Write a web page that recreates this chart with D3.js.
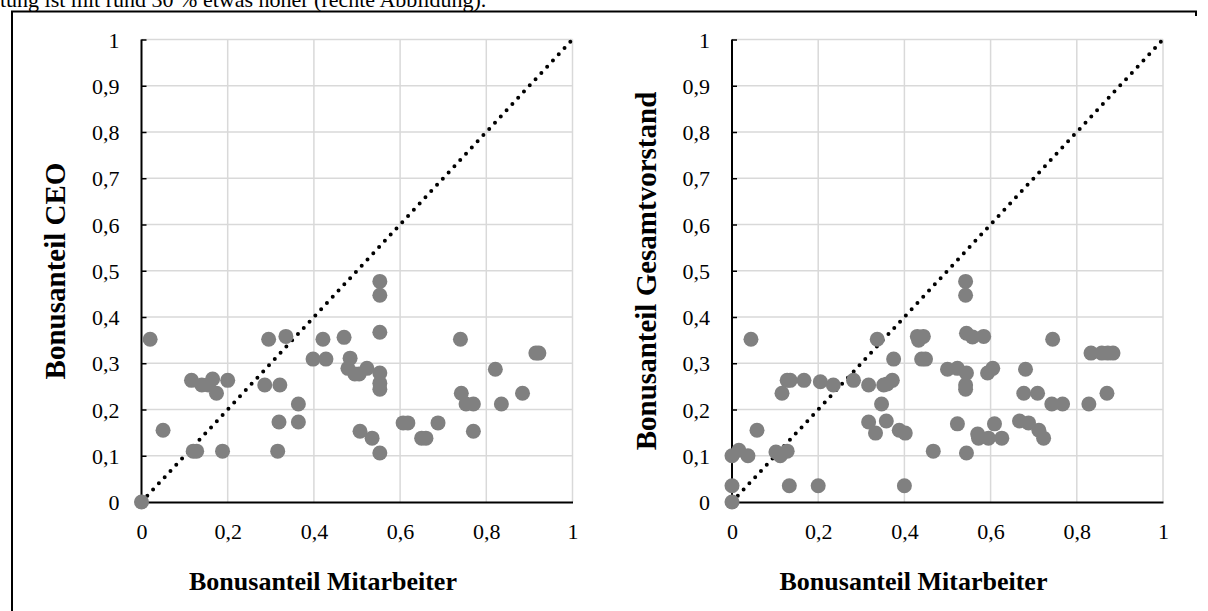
<!DOCTYPE html>
<meta charset="utf-8">
<style>
  body { margin: 0; background: white; }
  text { font-family: "Liberation Serif", "Times New Roman", serif; fill: black; }
  .tick-label { font-size: 22px; }
  .title { font-weight: bold; text-anchor: middle; }
</style>
<script src="https://cdn.jsdelivr.net/npm/d3@7"></script>
<body>
<script>

  var w = 1208;
  var h = 611;

  // Bonusanteil Mitarbeiter vs. Bonusanteil CEO
  var ceoX = [0, 0.02, 0.05, 0.116, 0.14, 0.155, 0.165, 0.174, 0.2, 0.12, 0.128, 0.188,
              0.295, 0.335, 0.286, 0.321, 0.319, 0.316, 0.364, 0.364, 0.421, 0.47, 0.398, 0.428,
              0.484, 0.479, 0.495, 0.505, 0.523, 0.553, 0.553, 0.553, 0.553, 0.553, 0.553,
              0.507, 0.535, 0.553, 0.607, 0.618, 0.65, 0.66, 0.688, 0.74, 0.742, 0.753, 0.77,
              0.77, 0.915, 0.922, 0.821, 0.884, 0.835];
  var ceoY = [0, 0.352, 0.155, 0.263, 0.253, 0.253, 0.266, 0.235, 0.263, 0.11, 0.11, 0.11,
              0.352, 0.358, 0.253, 0.253, 0.173, 0.11, 0.212, 0.173, 0.352, 0.356, 0.309, 0.309,
              0.311, 0.289, 0.277, 0.277, 0.289, 0.279, 0.257, 0.244, 0.477, 0.447, 0.367,
              0.153, 0.138, 0.106, 0.171, 0.171, 0.138, 0.138, 0.171, 0.352, 0.235, 0.212, 0.212,
              0.153, 0.322, 0.322, 0.287, 0.235, 0.212];

  // Bonusanteil Mitarbeiter vs. Bonusanteil Gesamtvorstand
  var vorstandX = [0, 0, 0.133, 0.2, 0.4, 0, 0.016, 0.037, 0.102, 0.112, 0.128,
                   0.044, 0.058, 0.116, 0.128, 0.135, 0.167, 0.205, 0.235, 0.282, 0.317,
                   0.337, 0.375, 0.352, 0.36, 0.372, 0.347, 0.317, 0.333, 0.358, 0.388, 0.402,
                   0.467, 0.542, 0.542, 0.43, 0.444, 0.433, 0.44, 0.449,
                   0.5, 0.523, 0.544, 0.542, 0.542, 0.544, 0.558, 0.584, 0.593, 0.605,
                   0.523, 0.544, 0.57, 0.572, 0.595, 0.609, 0.626,
                   0.681, 0.677, 0.709, 0.667, 0.688, 0.712, 0.723,
                   0.744, 0.742, 0.767, 0.833, 0.858, 0.872, 0.884, 0.828, 0.87];
  var vorstandY = [0, 0.035, 0.035, 0.035, 0.035, 0.1, 0.112, 0.1, 0.108, 0.1, 0.11,
                   0.352, 0.155, 0.235, 0.263, 0.263, 0.263, 0.26, 0.253, 0.263, 0.253,
                   0.352, 0.309, 0.253, 0.255, 0.263, 0.212, 0.173, 0.149, 0.175, 0.155, 0.149,
                   0.11, 0.477, 0.447, 0.358, 0.358, 0.35, 0.309, 0.309,
                   0.287, 0.289, 0.279, 0.253, 0.244, 0.365, 0.357, 0.358, 0.279, 0.289,
                   0.169, 0.106, 0.147, 0.138, 0.138, 0.169, 0.138,
                   0.287, 0.235, 0.235, 0.175, 0.171, 0.155, 0.138,
                   0.352, 0.212, 0.212, 0.322, 0.322, 0.322, 0.322, 0.212, 0.235];

  var xTicks = [0, 0.2, 0.4, 0.6, 0.8, 1];
  var yTicks = [0, 0.1, 0.2, 0.3, 0.4, 0.5, 0.6, 0.7, 0.8, 0.9, 1];
  var xTitle = "Bonusanteil Mitarbeiter";

  var de = d3.formatLocale({decimal: ",", thousands: ".", grouping: [3], currency: ["", " €"]});
  var fmt = function (d) { return d === 0 || d === 1 ? String(d) : de.format(",.1f")(d); };

  var svg = d3.select("body").append("svg")
              .attr("width", w)
              .attr("height", h);

  // text line cut off at the top of the page
  svg.append("text")
     .attr("x", 0)
     .attr("y", 7)
     .style("font-size", "22px")
     .text("tung ist mit rund 30 % etwas höher (rechte Abbildung).");

  // frame around the figure
  svg.append("path")
     .attr("d", "M12,611 L12,11.5 L1196,11.5 L1196,16")
     .attr("fill", "none")
     .attr("stroke", "black")
     .attr("stroke-width", 2);

  function drawPlot(left, right, xs, ys, yTitle) {
    var x = d3.scaleLinear().domain([0, 1]).range([left, right]);
    var y = d3.scaleLinear().domain([0, 1]).range([502, 39.5]);
    var g = svg.append("g");

    // grid
    g.selectAll(".hgrid").data(yTicks.slice(1)).enter().append("line")
     .attr("x1", x(0)).attr("x2", x(1))
     .attr("y1", function (d) { return y(d); })
     .attr("y2", function (d) { return y(d); })
     .attr("stroke", "#d9d9d9").attr("stroke-width", 1.5);
    g.selectAll(".vgrid").data(xTicks.slice(1)).enter().append("line")
     .attr("y1", y(0)).attr("y2", y(1))
     .attr("x1", function (d) { return x(d); })
     .attr("x2", function (d) { return x(d); })
     .attr("stroke", "#d9d9d9").attr("stroke-width", 1.5);

    // y axis, ticks inside
    var yAxis = d3.axisLeft(y).tickValues(yTicks).tickSize(-5).tickPadding(22).tickFormat(fmt);
    var ya = g.append("g").attr("transform", "translate(" + x(0) + ",0)").call(yAxis);
    ya.select(".domain").attr("stroke", "black").attr("stroke-width", 2)
      .attr("d", "M0," + y(1) + "V" + y(0));
    ya.selectAll(".tick line").attr("stroke", "black").attr("stroke-width", 1.5);
    ya.selectAll(".tick text").attr("class", "tick-label").attr("font-family", null)
      .attr("font-size", null).attr("dy", "0.35em");

    // x axis
    var xAxis = d3.axisBottom(x).tickValues(xTicks).tickSize(0).tickPadding(21).tickFormat(fmt);
    var xa = g.append("g").attr("transform", "translate(0," + y(0) + ")").call(xAxis);
    xa.select(".domain").attr("stroke", "black").attr("stroke-width", 2);
    xa.selectAll(".tick text").attr("class", "tick-label").attr("font-family", null)
      .attr("font-size", null);

    // diagonal
    g.append("line")
     .attr("x1", x(0)).attr("y1", y(0))
     .attr("x2", x(1)).attr("y2", y(1))
     .attr("stroke", "black").attr("stroke-width", 4)
     .attr("stroke-linecap", "round")
     .attr("stroke-dasharray", "0 8.5");

    // points
    g.selectAll("circle").data(xs).enter().append("circle")
     .attr("cx", function (d) { return x(d); })
     .attr("cy", function (d, i) { return y(ys[i]); })
     .attr("r", 7.5)
     .attr("fill", "#808080");

    // titles
    g.append("text").attr("class", "title")
     .attr("x", (x(0) + x(1)) / 2 - 34).attr("y", 590)
     .style("font-size", "26px")
     .text(xTitle);
    g.append("text").attr("class", "title")
     .attr("transform", "translate(" + (x(0) - 76.5) + ",271) rotate(-90)")
     .style("font-size", "29px")
     .text(yTitle);
  }

  drawPlot(141.5, 572.5, ceoX, ceoY, "Bonusanteil CEO");
  drawPlot(732, 1163, vorstandX, vorstandY, "Bonusanteil Gesamtvorstand");

</script>
</body>
